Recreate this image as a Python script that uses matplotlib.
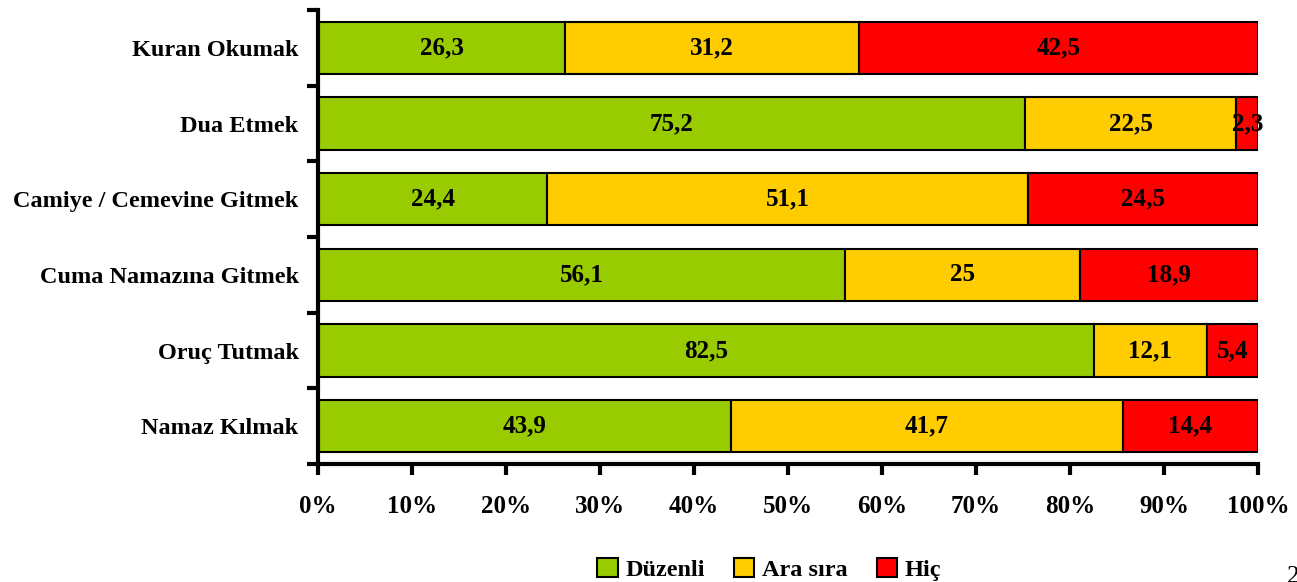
import matplotlib.pyplot as plt
import numpy as np
from matplotlib.patches import Patch
from matplotlib.ticker import FixedLocator, PercentFormatter

plt.rcParams['font.family'] = ['Liberation Serif', 'DejaVu Serif']
plt.rcParams['font.weight'] = 'bold'

# top to bottom as in the picture
categories = ["Kuran Okumak", "Dua Etmek", "Camiye / Cemevine Gitmek",
              "Cuma Namazına Gitmek", "Oruç Tutmak", "Namaz Kılmak"]
duzenli = [26.3, 75.2, 24.4, 56.1, 82.5, 43.9]
ara_sira = [31.2, 22.5, 51.1, 25, 12.1, 41.7]
hic = [42.5, 2.3, 24.5, 18.9, 5.4, 14.4]
series_names = ["Düzenli", "Ara sıra", "Hiç"]
colors = ["#99CC00", "#FFCC00", "#FF0000"]

fig = plt.figure(figsize=(12.97, 5.82), dpi=100)
ax = fig.add_axes([318/1297, 118/582, 940/1297, 454/582])

n = len(categories)
y = np.arange(n)[::-1]  # first category on top
left = np.zeros(n)
for vals, col in zip([duzenli, ara_sira, hic], colors):
    vals = np.array(vals, dtype=float)
    ax.barh(y, vals, left=left, height=0.69, color=col, edgecolor='black', linewidth=1.5)
    for yi, l, v in zip(y, left, vals):
        txt = f"{v:g}".replace('.', ',')
        ax.text(l + v/2, yi, txt, ha='center', va='center', fontsize=18, fontweight='bold')
    left += vals

ax.set_xlim(0, 100)
ax.set_ylim(-0.5, n - 0.5)

ax.set_yticks(y)
ax.set_yticklabels(categories, fontsize=17.5, fontweight='bold')
ax.yaxis.set_minor_locator(FixedLocator(np.arange(-0.5, n, 1.0)))
ax.tick_params(axis='y', which='major', length=0, pad=14)
ax.tick_params(axis='y', which='minor', length=8, width=3)

ax.set_xticks(np.arange(0, 101, 10))
ax.xaxis.set_major_formatter(PercentFormatter(decimals=0))
ax.tick_params(axis='x', length=8, width=3, labelsize=18, pad=14)
for lab in ax.get_xticklabels():
    lab.set_fontweight('bold')

for s in ['top', 'right']:
    ax.spines[s].set_visible(False)
for s in ['left', 'bottom']:
    ax.spines[s].set_linewidth(3)

handles = [Patch(facecolor=c, edgecolor='black', linewidth=1.5) for c in colors]
fig.legend(handles, series_names, loc='center', bbox_to_anchor=(0.593, 0.022),
           ncol=3, frameon=False, handlelength=0.85, handleheight=0.85,
           handletextpad=0.3, columnspacing=1.2, prop={'weight': 'bold', 'size': 17.5})

fig.text(1287/1297, -0.01, "2", fontsize=18, fontweight='normal', ha='left', va='bottom')

fig.savefig("out.png", dpi=100)
